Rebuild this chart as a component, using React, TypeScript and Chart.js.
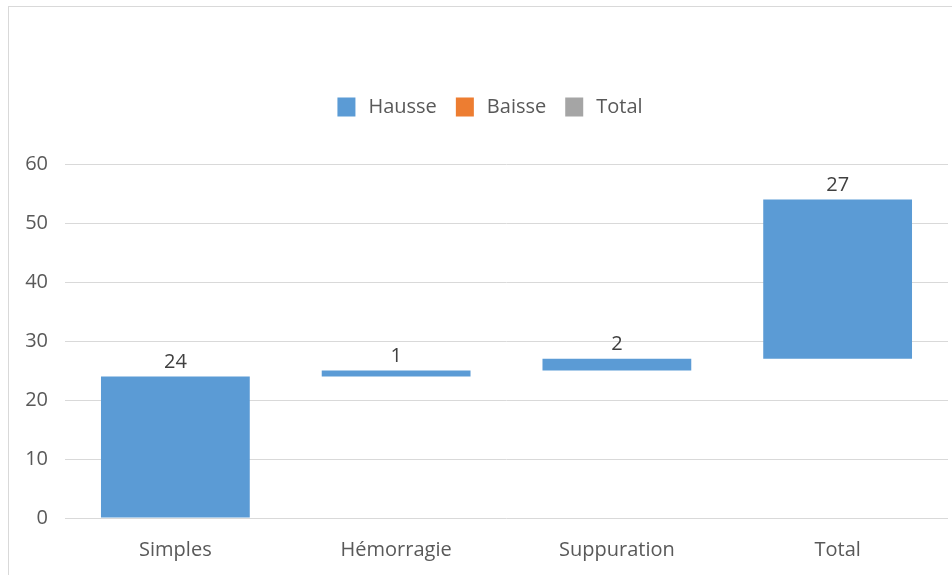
import React, { useEffect, useRef } from "react";
import { Chart, registerables } from "chart.js";

Chart.register(...registerables);

const categories = ["Simples", "Hémorragie", "Suppuration", "Total"];
const barStart = [0, 24, 25, 27];
const barEnd = [24, 25, 27, 54];
const barLabels = ["24", "1", "2", "27"];
const seriesNames = ["Hausse", "Baisse", "Total"];
const seriesColors = ["#5b9bd5", "#ed7d31", "#a5a5a5"];
const yTicks = [0, 10, 20, 30, 40, 50, 60];

const FONT = "'Open Sans', 'Noto Sans', sans-serif";

const dataLabelPlugin = {
  id: "dataLabels",
  afterDatasetsDraw(chart: any) {
    const ctx = chart.ctx;
    const meta = chart.getDatasetMeta(0);
    ctx.save();
    ctx.font = `20px ${FONT}`;
    ctx.fillStyle = "#404040";
    ctx.textAlign = "center";
    ctx.textBaseline = "middle";
    meta.data.forEach((el: any, i: number) => {
      const top = Math.min(el.y, el.base);
      ctx.fillText(barLabels[i], el.x, top - 14);
    });
    ctx.restore();
  },
};

const legendPlugin = {
  id: "customLegend",
  afterDraw(chart: any) {
    const ctx = chart.ctx;
    ctx.save();
    ctx.font = `20px ${FONT}`;
    const boxW = 18;
    const boxH = 19;
    const gapText = 13;
    const gapItem = 19;
    const widths = chart.data.datasets.map((d: any) => ctx.measureText(d.label).width);
    let total = 0;
    widths.forEach((w: number, i: number) => {
      total += boxW + gapText + w + (i < widths.length - 1 ? gapItem : 0);
    });
    const cx = 490;
    const cy = 107;
    let x = cx - total / 2;
    chart.data.datasets.forEach((d: any, i: number) => {
      ctx.fillStyle = seriesColors[i];
      ctx.fillRect(x, cy - boxH / 2, boxW, boxH);
      x += boxW + gapText;
      ctx.fillStyle = "#595959";
      ctx.textAlign = "left";
      ctx.textBaseline = "middle";
      ctx.fillText(d.label, x, cy);
      x += widths[i] + gapItem;
    });
    ctx.restore();
  },
};

export default function App() {
  const canvasRef = useRef<HTMLCanvasElement | null>(null);

  useEffect(() => {
    document.body.style.margin = "0";
    document.body.style.overflow = "hidden";
    const canvas = canvasRef.current;
    if (!canvas) return;
    const chart = new Chart(canvas, {
      type: "bar",
      data: {
        labels: categories,
        datasets: [
          {
            label: seriesNames[0],
            data: categories.map((_, i) => [barStart[i], barEnd[i]]) as any,
            backgroundColor: seriesColors[0],
            categoryPercentage: 1,
            barPercentage: 0.674,
          },
          {
            label: seriesNames[1],
            data: categories.map(() => null) as any,
            backgroundColor: seriesColors[1],
            categoryPercentage: 1,
            barPercentage: 0.674,
          },
          {
            label: seriesNames[2],
            data: categories.map(() => null) as any,
            backgroundColor: seriesColors[2],
            categoryPercentage: 1,
            barPercentage: 0.674,
          },
        ],
      },
      options: {
        animation: false,
        responsive: false,
        maintainAspectRatio: false,
        layout: { padding: { top: 164, right: 4, bottom: 0, left: 0 } },
        plugins: {
          legend: { display: false },
          tooltip: { enabled: false },
          title: { display: false },
        },
        scales: {
          x: {
            stacked: true,
            grid: { display: false, drawTicks: false },
            border: { display: false },
            ticks: {
              color: "#595959",
              font: { family: FONT, size: 20 },
              padding: 20,
              maxRotation: 0,
            },
            afterFit: (scale: any) => {
              scale.height = 57;
            },
          },
          y: {
            stacked: false,
            min: 0,
            max: 60,
            afterBuildTicks: (scale: any) => {
              scale.ticks = yTicks.map((v) => ({ value: v }));
            },
            grid: { color: "#d9d9d9", lineWidth: 1, drawTicks: false },
            border: { display: false },
            ticks: {
              color: "#595959",
              font: { family: FONT, size: 20 },
              padding: 17,
            },
            afterFit: (scale: any) => {
              scale.width = 65;
            },
          },
        },
      },
      plugins: [dataLabelPlugin, legendPlugin],
    });
    return () => chart.destroy();
  }, []);

  return (
    <div
      style={{
        position: "fixed",
        left: 0,
        top: 0,
        width: 952,
        height: 575,
        overflow: "hidden",
        background: "#ffffff",
      }}
    >
      <div
        style={{
          position: "absolute",
          left: 8,
          top: 6,
          width: 2000,
          height: 2000,
          border: "1px solid #d9d9d9",
          boxSizing: "border-box",
        }}
      />
      <canvas
        ref={canvasRef}
        width={952}
        height={575}
        style={{ position: "absolute", left: 0, top: 0, width: 952, height: 575 }}
      />
    </div>
  );
}
